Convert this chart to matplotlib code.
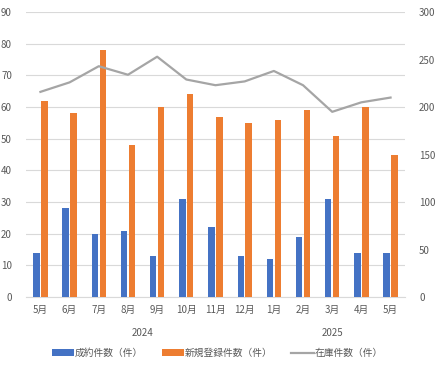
import matplotlib
matplotlib.use('Agg')
import matplotlib.pyplot as plt
import numpy as np

plt.rcParams['font.family'] = ['Noto Sans CJK JP', 'DejaVu Sans']

months = ['5月', '6月', '7月', '8月', '9月', '10月', '11月', '12月', '1月', '2月', '3月', '4月', '5月']
years = ['2024', '2025']
year_spans = [(0, 7), (8, 12)]
contracts = [14, 28, 20, 21, 13, 31, 22, 13, 12, 19, 31, 14, 14]
new_regs = [62, 58, 78, 48, 60, 64, 57, 55, 56, 59, 51, 60, 45]
stock = [216, 226, 243, 234, 253, 229, 223, 227, 238, 223, 195, 205, 210]

BLUE = '#4472c4'
ORANGE = '#ed7d31'
GRAY = '#a5a5a5'
TXT = '#595959'
BAR_WIDTH = 0.22
GAP = 0.05

fig = plt.figure(figsize=(4.38, 3.65), dpi=100)
ax = fig.add_axes([0.059, 0.186, 0.866, 0.781])
ax2 = ax.twinx()

x = np.arange(len(months))
b1 = ax.bar(x - (BAR_WIDTH + GAP) / 2, contracts, BAR_WIDTH, color=BLUE, zorder=3)
b2 = ax.bar(x + (BAR_WIDTH + GAP) / 2, new_regs, BAR_WIDTH, color=ORANGE, zorder=3)
l1, = ax2.plot(x, stock, color=GRAY, lw=1.6, zorder=4)

ax.set_xlim(-0.5, len(months) - 0.5)
ax.set_ylim(0, 90)
ax.set_yticks(range(0, 91, 10))
ax2.set_ylim(0, 300)
ax2.set_yticks(range(0, 301, 50))
ax.yaxis.grid(True, color='#d9d9d9', lw=0.8, zorder=0)
ax.set_axisbelow(True)

for a in (ax, ax2):
    for s in a.spines.values():
        s.set_visible(False)
    a.tick_params(length=0, labelsize=7, colors=TXT)
ax.spines['bottom'].set_visible(True)
ax.spines['bottom'].set_color('#d9d9d9')

ax.set_xticks(x)
ax.set_xticklabels(months)
ax.tick_params(axis='x', pad=6)
ax.tick_params(axis='y', pad=10)
ax2.tick_params(axis='y', pad=10)

for yr, (s, e) in zip(years, year_spans):
    ax.text((s + e) / 2, -0.126, yr, transform=ax.get_xaxis_transform(),
            ha='center', va='center', fontsize=7, color=TXT)

fig.legend([b1, b2, l1], ['成約件数（件）', '新規登録件数（件）', '在庫件数（件）'],
           loc='center', bbox_to_anchor=(0.496, 0.033), ncol=3, frameon=False,
           fontsize=7, labelcolor=TXT, handlelength=2.3, handleheight=0.6,
           columnspacing=1.9, handletextpad=0.1)

fig.savefig('out.png', dpi=100)
